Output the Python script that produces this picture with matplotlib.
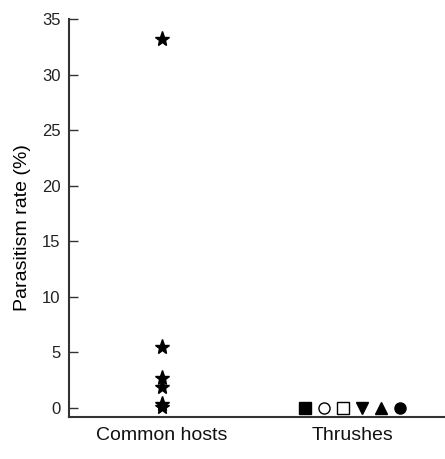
import matplotlib
matplotlib.use("Agg")
import matplotlib.pyplot as plt

plt.rcParams['font.family'] = ['Liberation Sans', 'DejaVu Sans']

categories = ["Common hosts", "Thrushes"]
common_host_rates = [33.2, 5.5, 2.7, 1.9, 0.4, 0.1]
thrush_rates = [0, 0, 0, 0, 0, 0]
thrush_markers = ['s', 'o', 's', 'v', '^', 'o']
thrush_filled = [True, False, False, True, True, True]
yticks = [0, 5, 10, 15, 20, 25, 30, 35]

fig = plt.figure(figsize=(4.45, 4.59), dpi=100)
ax = fig.add_axes([69/445, 42/459, 1 - 69/445, (417-19)/459])

ax.plot([0]*len(common_host_rates), common_host_rates, linestyle='none',
        marker='*', markersize=11, color='black', clip_on=False)

spacing = 0.1
n = len(thrush_rates)
for i, (v, m, f) in enumerate(zip(thrush_rates, thrush_markers, thrush_filled)):
    x = 1 + (i - (n - 1) / 2) * spacing
    ms = 9 if m in ('v', '^') else 8
    ax.plot([x], [v], linestyle='none', marker=m, markersize=ms,
            markerfacecolor='black' if f else 'white', markeredgecolor='black',
            markeredgewidth=1.0, clip_on=False)

ax.set_xlim(-0.489, 1.489)
ax.set_ylim(-0.81, 35)
ax.set_xticks([0, 1])
ax.set_xticklabels(categories, fontsize=14)
ax.set_yticks(yticks)
ax.set_yticklabels([str(t) for t in yticks], fontsize=12)
ax.tick_params(axis='y', direction='in', length=6.5, width=1, color='#333333', pad=6,
               labelcolor='#222222')
ax.tick_params(axis='x', length=0, pad=7, labelcolor='#111111')
ax.set_ylabel("Parasitism rate (%)", fontsize=14)
ax.yaxis.set_label_coords(-0.101, 0.475)
for s in ['top', 'right']:
    ax.spines[s].set_visible(False)
for s in ['left', 'bottom']:
    ax.spines[s].set_color('#333333')
    ax.spines[s].set_linewidth(1.5)

fig.savefig("out.png", dpi=100)
